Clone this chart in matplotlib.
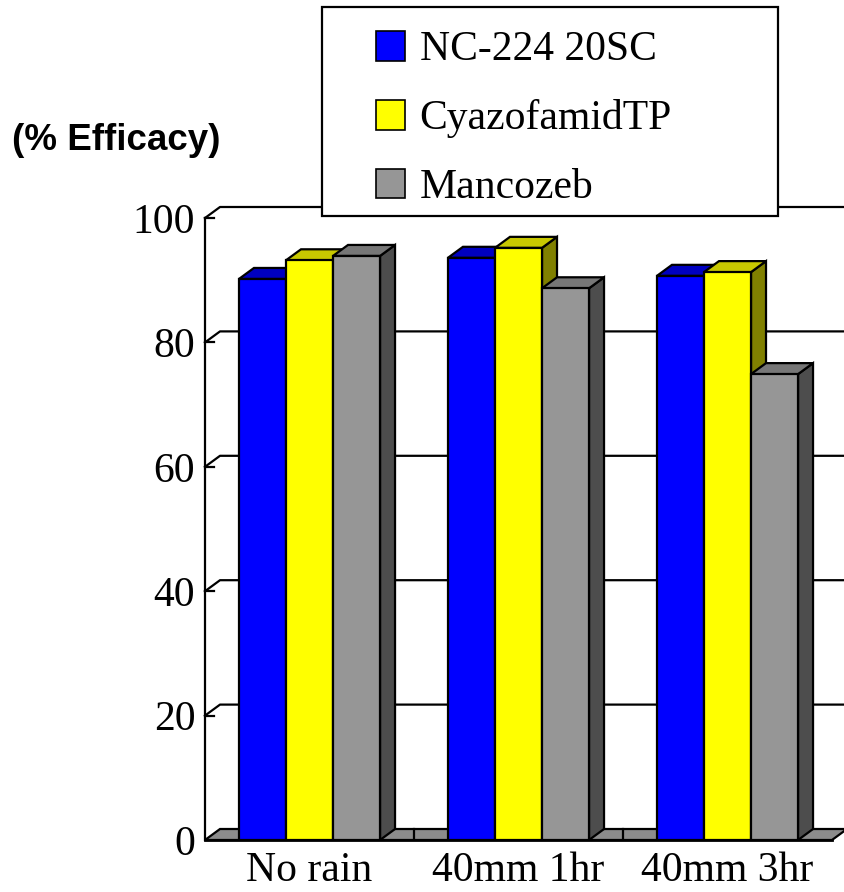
import numpy as np
import matplotlib
matplotlib.use("Agg")
import matplotlib.pyplot as plt
from matplotlib.patches import Polygon, Rectangle

# data
categories = ["No rain", "40mm 1hr", "40mm 3hr"]
series_names = ["NC-224 20SC", "CyazofamidTP", "Mancozeb"]
nc224 = [90.2, 93.6, 90.7]
cyazofamid = [93.2, 95.2, 91.3]
mancozeb = [93.9, 88.7, 74.9]
y_ticks = [0, 20, 40, 60, 80, 100]

# face colours: front / top / side
front_cols = ["#0000FF", "#FFFF00", "#969696"]
top_cols = ["#0000C0", "#C8C800", "#777777"]
side_cols = ["#000080", "#808000", "#4D4D4D"]

SERIF = ["Liberation Serif", "DejaVu Serif"]
FS = 30

W, H = 845, 892
fig = plt.figure(figsize=(W / 100, H / 100), dpi=100)

# axes box in pixels: front-left axis at x=205, floor at y=840
px_per_cat = 209.0
px_per_unit = 6.22
ax_left, ax_bottom, ax_top = 205, 840, 205
ax = fig.add_axes([ax_left / W, (H - ax_bottom) / H, (W - ax_left) / W, (ax_bottom - ax_top) / H])
ax.set_xlim(0, (W - ax_left) / px_per_cat)
ax.set_ylim(0, (ax_bottom - ax_top) / px_per_unit)
for s in ax.spines.values():
    s.set_visible(False)

DX = 15 / px_per_cat   # depth offset
DY = 11 / px_per_unit
n_cat = len(categories)
lw = 1.6

# walls / gridlines
x_end = ax.get_xlim()[1] + 0.2
for t in y_ticks:
    if t == 0:
        continue
    ax.plot([0, DX, x_end], [t, t + DY, t + DY], color="black", lw=lw, clip_on=False, zorder=1)
    ax.plot([0, 0.045], [t, t], color="black", lw=lw, clip_on=False, zorder=1)
ax.plot([0, 0], [0, 100], color="black", lw=lw, clip_on=False, zorder=1)

# floor
floor = Polygon([(0, 0), (n_cat, 0), (n_cat + DX, DY), (DX, DY)], closed=True,
                facecolor="#8C8C8C", edgecolor="black", lw=lw, zorder=2, clip_on=False)
ax.add_patch(floor)
for k in range(1, n_cat):
    ax.plot([k, k], [0, DY], color="black", lw=lw, zorder=2)

# 3D bars
all_series = [nc224, cyazofamid, mancozeb]
bw = 0.225
offset = (1 - len(all_series) * bw) / 2
for ci in range(n_cat):
    for si, vals in enumerate(all_series):
        v = vals[ci]
        x0 = ci + offset + si * bw
        x1 = x0 + bw
        side = Polygon([(x1, 0), (x1 + DX, DY), (x1 + DX, v + DY), (x1, v)], closed=True,
                       facecolor=side_cols[si], edgecolor="black", lw=lw, zorder=3)
        top = Polygon([(x0, v), (x1, v), (x1 + DX, v + DY), (x0 + DX, v + DY)], closed=True,
                      facecolor=top_cols[si], edgecolor="black", lw=lw, zorder=3)
        front = Rectangle((x0, 0), bw, v, facecolor=front_cols[si], edgecolor="black", lw=lw, zorder=3)
        ax.add_patch(side)
        ax.add_patch(top)
        ax.add_patch(front)

ax.plot([0, n_cat], [0, 0], color="black", lw=2, zorder=4, clip_on=False)

# ticks and labels
ax.set_yticks(y_ticks)
ax.set_yticklabels([str(t) for t in y_ticks], family=SERIF, fontsize=FS)
ax.set_xticks(np.arange(n_cat) + 0.5)
ax.set_xticklabels(categories, family=SERIF, fontsize=FS)
ax.tick_params(axis="y", length=0, pad=7)
ax.tick_params(axis="x", length=0, pad=8)

fig.text(12 / W, 1 - 140 / H, "(% Efficacy)", fontsize=26.5, fontweight="bold",
         family=["Liberation Sans", "DejaVu Sans"], ha="left", va="center")

# legend box + entries
box = Rectangle((322 / W, 1 - 216 / H), 456 / W, 209 / H, transform=fig.transFigure,
                facecolor="white", edgecolor="black", lw=lw, zorder=10)
fig.add_artist(box)
handles = [Rectangle((0, 0), 1, 1, facecolor=c, edgecolor="black", lw=1.2) for c in front_cols]
leg = fig.legend(handles, series_names, loc="upper left", bbox_to_anchor=(376 / W, 1 - 31 / H),
                 frameon=False, prop={"family": SERIF, "size": FS}, handlelength=0.7,
                 handleheight=0.7, handletextpad=0.35, labelspacing=0.72, borderpad=0,
                 borderaxespad=0)
leg.set_zorder(11)

fig.savefig("out.png", dpi=100)
